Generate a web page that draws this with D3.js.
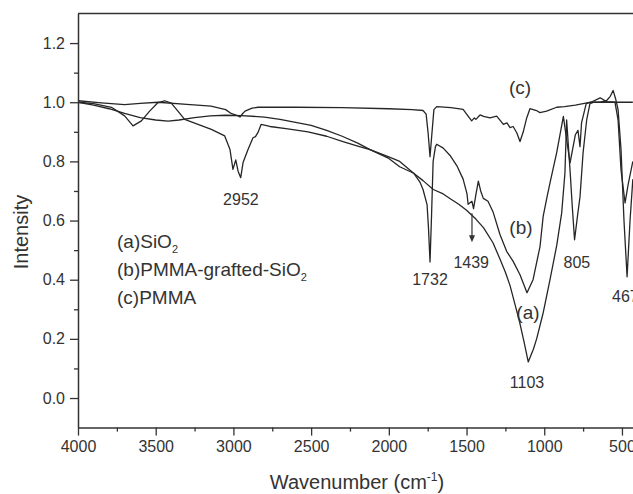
<!DOCTYPE html>
<html>
<head>
<meta charset="utf-8">
<script src="https://cdn.jsdelivr.net/npm/d3@7"></script>
<style>
  body { margin: 0; background: #fff; }
  text { font-family: "Liberation Sans", Arial, sans-serif; fill: #333; }
</style>
</head>
<body>
<svg id="chart"></svg>
<script>
const width = 633;
const height = 494;

// spectra: [wavenumber, intensity]
const sio2 = [
  [4000, 1.000], [3900, 0.990], [3800, 0.978], [3700, 0.962], [3600, 0.948], [3500, 0.940],
  [3420, 0.936], [3350, 0.940], [3250, 0.948], [3150, 0.954], [3050, 0.956], [2950, 0.955],
  [2800, 0.950], [2700, 0.942], [2600, 0.932], [2500, 0.922], [2400, 0.905], [2300, 0.885],
  [2200, 0.862], [2121, 0.840], [2000, 0.810], [1930, 0.782], [1840, 0.760], [1780, 0.735],
  [1714, 0.705], [1650, 0.690], [1600, 0.672], [1550, 0.655], [1500, 0.635], [1440, 0.605],
  [1390, 0.575], [1330, 0.525], [1285, 0.470], [1250, 0.425], [1220, 0.380], [1190, 0.320],
  [1160, 0.260], [1130, 0.190], [1103, 0.122], [1070, 0.165], [1049, 0.200], [1006, 0.290],
  [963, 0.400], [920, 0.515], [888, 0.625], [867, 0.760], [856, 0.940], [834, 0.770],
  [820, 0.650], [805, 0.535], [785, 0.620], [770, 0.680], [750, 0.830], [727, 0.940],
  [706, 0.995], [680, 1.000], [640, 1.000], [600, 1.005], [575, 1.020], [557, 1.040],
  [540, 1.010], [525, 0.975], [506, 0.840], [487, 0.600], [467, 0.410], [448, 0.600],
  [430, 0.740]
];
const grafted = [
  [4000, 1.000], [3900, 0.995], [3785, 0.983], [3700, 0.954], [3646, 0.920], [3592, 0.937],
  [3539, 0.970], [3485, 0.999], [3442, 1.005], [3400, 0.997], [3357, 0.970], [3314, 0.942],
  [3228, 0.925], [3142, 0.908], [3056, 0.886], [3022, 0.840], [3003, 0.773], [2985, 0.805],
  [2970, 0.767], [2953, 0.745], [2938, 0.796], [2906, 0.840], [2874, 0.880], [2858, 0.884],
  [2842, 0.898], [2822, 0.925], [2765, 0.918], [2650, 0.910], [2520, 0.900], [2400, 0.885],
  [2300, 0.868], [2200, 0.852], [2121, 0.840], [2000, 0.815], [1930, 0.800], [1840, 0.760],
  [1800, 0.730], [1780, 0.705], [1754, 0.654], [1745, 0.576], [1735, 0.460], [1725, 0.620],
  [1715, 0.800], [1700, 0.850], [1692, 0.858], [1650, 0.845], [1606, 0.820], [1562, 0.785],
  [1522, 0.740], [1497, 0.690], [1490, 0.655], [1465, 0.665], [1455, 0.640], [1439, 0.690],
  [1424, 0.733], [1409, 0.700], [1392, 0.675], [1362, 0.665], [1330, 0.630], [1285, 0.553],
  [1242, 0.496], [1200, 0.462], [1156, 0.417], [1111, 0.356], [1072, 0.400], [1027, 0.513],
  [1007, 0.614], [982, 0.680], [963, 0.727], [920, 0.830], [877, 0.952], [855, 0.870],
  [834, 0.795], [800, 0.890], [783, 0.905], [770, 0.850], [760, 0.930], [730, 0.995],
  [700, 1.000], [640, 1.015], [600, 1.002], [545, 1.000], [525, 0.940], [506, 0.770],
  [480, 0.660], [461, 0.720], [430, 0.800]
];
const pmma = [
  [4000, 1.005], [3850, 0.998], [3700, 0.992], [3600, 0.996], [3485, 1.000], [3300, 0.993],
  [3144, 0.987], [3050, 0.975], [3015, 0.962], [2975, 0.955], [2958, 0.950], [2940, 0.962],
  [2925, 0.970], [2880, 0.980], [2842, 0.983], [2600, 0.983], [2300, 0.982], [2000, 0.978],
  [1850, 0.975], [1780, 0.972], [1760, 0.960], [1748, 0.900], [1735, 0.816], [1725, 0.880],
  [1710, 0.975], [1692, 0.985], [1600, 0.982], [1522, 0.976], [1490, 0.953], [1467, 0.937],
  [1450, 0.947], [1440, 0.942], [1413, 0.957], [1390, 0.952], [1349, 0.947], [1306, 0.953],
  [1263, 0.925], [1240, 0.930], [1220, 0.914], [1200, 0.918], [1177, 0.897], [1156, 0.867],
  [1135, 0.900], [1113, 0.947], [1092, 0.978], [1050, 0.972], [1028, 0.965], [985, 0.970],
  [920, 0.983], [870, 0.985], [800, 0.990], [700, 1.000], [430, 1.000]
];

const xTicks = [4000, 3500, 3000, 2500, 2000, 1500, 1000, 500];
const xMinor = [3750, 3250, 2750, 2250, 1750, 1250, 750];
const yTicks = [0.0, 0.2, 0.4, 0.6, 0.8, 1.0, 1.2];
const yMinor = [0.1, 0.3, 0.5, 0.7, 0.9, 1.1];

// peak labels: text, wavenumber, intensity of the label baseline
const peakLabels = [
  ['2952', 2952, 0.652], ['1732', 1735, 0.382], ['1439', 1470, 0.439],
  ['805', 790, 0.439], ['467', 478, 0.325], ['1103', 1111, 0.034]
];
const curveLabels = [['(a)', 1105, 0.267], ['(b)', 1150, 0.554], ['(c)', 1156, 1.028]];

const svg = d3.select('#chart')
  .attr('width', width)
  .attr('height', height);

const x = d3.scaleLinear().domain([4000, 400]).range([78, 637.5]);
const y = d3.scaleLinear().domain([-0.1, 1.3]).range([427.6, 13.5]);

svg.append('clipPath').attr('id', 'plot-clip')
  .append('rect')
  .attr('x', 78).attr('y', 13.5)
  .attr('width', 637.5 - 78).attr('height', 427.6 - 13.5);

// spectra
const line = d3.line().x(d => x(d[0])).y(d => y(d[1]));
svg.append('g')
  .attr('clip-path', 'url(#plot-clip)')
  .selectAll('path')
  .data([sio2, grafted, pmma])
  .enter()
  .append('path')
  .attr('d', line)
  .attr('fill', 'none')
  .attr('stroke', '#262626')
  .attr('stroke-width', 1.3)
  .attr('stroke-linejoin', 'round');

// top frame line
svg.append('line')
  .attr('x1', 78).attr('x2', width)
  .attr('y1', y(1.3)).attr('y2', y(1.3))
  .attr('stroke', '#333').attr('stroke-width', 1.5);

// x axis, major + minor ticks
svg.append('g')
  .attr('transform', `translate(0, ${y(-0.1)})`)
  .call(d3.axisBottom(x).tickValues(xTicks).tickSize(8).tickSizeOuter(0).tickPadding(5)
    .tickFormat(d3.format('d')));
svg.append('g')
  .attr('transform', `translate(0, ${y(-0.1)})`)
  .call(d3.axisBottom(x).tickValues(xMinor).tickSize(4).tickFormat(''))
  .select('.domain').remove();

// y axis
svg.append('g')
  .attr('transform', `translate(${x(4000)}, 0)`)
  .call(d3.axisLeft(y).tickValues(yTicks).tickSize(8).tickSizeOuter(0).tickPadding(5)
    .tickFormat(d3.format('.1f')));
svg.append('g')
  .attr('transform', `translate(${x(4000)}, 0)`)
  .call(d3.axisLeft(y).tickValues(yMinor).tickSize(4).tickFormat(''))
  .select('.domain').remove();

svg.selectAll('.domain').attr('stroke', '#333').attr('stroke-width', 1.5);
svg.selectAll('.tick line').attr('stroke', '#333').attr('stroke-width', 1.3);
svg.selectAll('.tick text')
  .attr('font-size', 16)
  .attr('font-family', '"Liberation Sans", Arial, sans-serif')
  .attr('fill', '#333');

// axis titles
const xTitle = svg.append('text')
  .attr('x', 357).attr('y', 489)
  .attr('text-anchor', 'middle')
  .attr('font-size', 20);
xTitle.append('tspan').text('Wavenumber (cm');
xTitle.append('tspan').attr('font-size', 12).attr('dy', -8).text('-1');
xTitle.append('tspan').attr('dy', 8).text(')');

svg.append('text')
  .attr('transform', 'translate(28, 232) rotate(-90)')
  .attr('text-anchor', 'middle')
  .attr('font-size', 20)
  .text('Intensity');

// legend
const legendRows = [['(a)SiO', '2'], ['(b)PMMA-grafted-SiO', '2'], ['(c)PMMA', '']];
legendRows.forEach((r, i) => {
  const t = svg.append('text')
    .attr('x', 117).attr('y', 248 + i * 28)
    .attr('font-size', 19);
  t.append('tspan').text(r[0]);
  if (r[1]) t.append('tspan').attr('font-size', 11).attr('dy', 5).text(r[1]);
});

// peak and curve labels
svg.selectAll('.peak')
  .data(peakLabels)
  .enter()
  .append('text')
  .attr('class', 'peak')
  .attr('x', d => x(d[1])).attr('y', d => y(d[2]))
  .attr('text-anchor', 'middle')
  .attr('font-size', 16)
  .text(d => d[0]);

svg.selectAll('.curve-label')
  .data(curveLabels)
  .enter()
  .append('text')
  .attr('class', 'curve-label')
  .attr('x', d => x(d[1])).attr('y', d => y(d[2]))
  .attr('text-anchor', 'middle')
  .attr('font-size', 19)
  .text(d => d[0]);

// arrow at 1439
const ax = x(1465);
svg.append('line')
  .attr('x1', ax).attr('x2', ax)
  .attr('y1', y(0.625)).attr('y2', y(0.545))
  .attr('stroke', '#333').attr('stroke-width', 1.2);
svg.append('path')
  .attr('d', `M${ax - 3},${y(0.55)} L${ax + 3},${y(0.55)} L${ax},${y(0.527)} Z`)
  .attr('fill', '#333');
</script>
</body>
</html>
